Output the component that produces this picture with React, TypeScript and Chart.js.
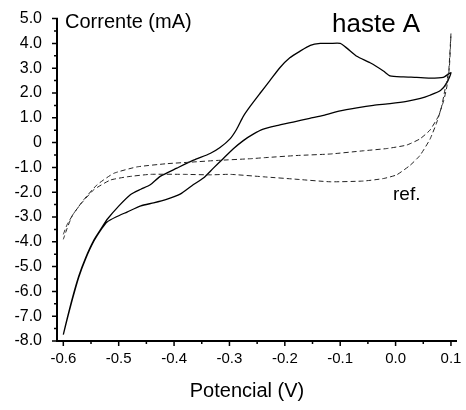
import React, { useEffect, useRef } from "react";
import { Chart, registerables } from "chart.js";

Chart.register(...registerables);

// haste A (solid loop): anodic sweep then cathodic sweep
const hasteAX = [
  -0.6, -0.593, -0.584, -0.572, -0.56, -0.545, -0.53, -0.521, -0.5, -0.479, -0.46, -0.443, -0.425, -0.395,
  -0.365, -0.335, -0.317, -0.299, -0.287, -0.275, -0.263, -0.245, -0.227, -0.209, -0.191, -0.173, -0.154,
  -0.136, -0.118, -0.1, -0.088, -0.07, -0.046, -0.022, -0.01, 0.014, 0.038, 0.062, 0.086, 0.1,
  0.093, 0.081, 0.062, 0.045, 0.02, -0.01, -0.04, -0.07, -0.1, -0.13, -0.155, -0.185, -0.215, -0.239,
  -0.257, -0.275, -0.293, -0.311, -0.329, -0.347, -0.365, -0.389, -0.415, -0.437, -0.46, -0.485, -0.505,
  -0.521, -0.53, -0.545, -0.56, -0.572, -0.584, -0.593, -0.6,
];
const hasteAY = [
  -7.74, -7.09, -6.3, -5.38, -4.66, -3.94, -3.41, -3.1, -2.56, -2.1, -1.88, -1.7, -1.36, -1.03,
  -0.71, -0.44, -0.2, 0.15, 0.54, 1.06, 1.45, 1.98, 2.5, 3.02, 3.42, 3.68, 3.92,
  4.0, 4.0, 4.0, 3.81, 3.48, 3.22, 2.89, 2.69, 2.65, 2.63, 2.6, 2.63, 2.82,
  2.43, 2.1, 1.91, 1.78, 1.66, 1.57, 1.5, 1.4, 1.28, 1.1, 0.98, 0.83, 0.68, 0.54,
  0.34, 0.08, -0.25, -0.64, -1.03, -1.43, -1.69, -2.08, -2.3, -2.43, -2.55, -2.8, -3.0,
  -3.2, -3.45, -3.98, -4.7, -5.42, -6.35, -7.12, -7.74,
];

// ref. (dashed loop)
const refX = [
  -0.6, -0.593, -0.581, -0.563, -0.539, -0.509, -0.467, -0.413, -0.371, -0.323, -0.262, -0.238, -0.178,
  -0.118, -0.058, -0.016, 0.02, 0.044, 0.062, 0.077, 0.087, 0.093, 0.097, 0.099, 0.1,
  0.096, 0.09, 0.083, 0.074, 0.062, 0.044, 0.026, 0.002, -0.022, -0.058, -0.118, -0.178, -0.238, -0.299,
  -0.335, -0.383, -0.443, -0.485, -0.515, -0.545, -0.569, -0.584, -0.593, -0.6,
];
const refY = [
  -3.7, -3.3, -2.85, -2.3, -1.7, -1.24, -0.98, -0.85, -0.79, -0.72, -0.65, -0.61, -0.52,
  -0.46, -0.33, -0.24, -0.1, 0.15, 0.5, 1.05, 1.7, 2.3, 3.0, 3.8, 4.4,
  2.9, 2.23, 1.44, 0.79, 0.13, -0.52, -0.92, -1.3, -1.45, -1.55, -1.58, -1.48, -1.38, -1.28,
  -1.3, -1.28, -1.28, -1.38, -1.51, -1.9, -2.49, -2.95, -3.45, -3.9,
];

const xMajor = [-0.6, -0.5, -0.4, -0.3, -0.2, -0.1, 0.0, 0.1];
const xLabels = ["-0.6", "-0.5", "-0.4", "-0.3", "-0.2", "-0.1", "0.0", "0.1"];
const yMajor = [5, 4, 3, 2, 1, 0, -1, -2, -3, -4, -5, -6, -7, -8];
const yLabels = ["5.0", "4.0", "3.0", "2.0", "1.0", "0", "-1.0", "-2.0", "-3.0", "-4.0", "-5.0", "-6.0", "-7.0", "-8.0"];

const FONT = '"Liberation Sans", Arial, Helvetica, sans-serif';

function labelFor(values: number[], labels: string[], v: number): string {
  const i = values.findIndex((m) => Math.abs(m - v) < 1e-9);
  return i >= 0 ? labels[i] : "";
}

const decorPlugin = {
  id: "decor",
  afterDraw(chart: any) {
    const { ctx, chartArea, scales } = chart;
    const xs = scales.x;
    const ys = scales.y;
    ctx.save();
    ctx.strokeStyle = "#000";
    ctx.lineWidth = 1.5;
    ctx.beginPath();
    const bottom = chartArea.bottom;
    xMajor.forEach((v, i) => {
      const p = xs.getPixelForValue(v);
      ctx.moveTo(p, bottom - 1);
      ctx.lineTo(p, bottom + 5);
      if (i < xMajor.length - 1) {
        const q = xs.getPixelForValue((v + xMajor[i + 1]) / 2);
        ctx.moveTo(q, bottom - 1);
        ctx.lineTo(q, bottom + 3);
      }
    });
    const left = chartArea.left;
    yMajor.forEach((v, i) => {
      const p = ys.getPixelForValue(v);
      ctx.moveTo(left + 1, p);
      ctx.lineTo(left - 5, p);
      if (i < yMajor.length - 1) {
        const q = ys.getPixelForValue((v + yMajor[i + 1]) / 2);
        ctx.moveTo(left + 1, q);
        ctx.lineTo(left - 3, q);
      }
    });
    ctx.stroke();

    ctx.fillStyle = "#000";
    ctx.textBaseline = "alphabetic";
    ctx.textAlign = "left";
    ctx.font = `20px ${FONT}`;
    ctx.fillText("Corrente (mA)", 65, 28);
    ctx.font = `26px ${FONT}`;
    ctx.fillText("haste A", 332, 32);
    ctx.font = `19px ${FONT}`;
    ctx.fillText("ref.", 393, 200);
    ctx.font = `20px ${FONT}`;
    ctx.textAlign = "center";
    ctx.fillText("Potencial (V)", 247, 397);
    ctx.restore();
  },
};

export default function App() {
  const canvasRef = useRef<HTMLCanvasElement | null>(null);

  useEffect(() => {
    if (!canvasRef.current) return;
    const hasteData = hasteAX.map((x, i) => ({ x, y: hasteAY[i] }));
    const refData = refX.map((x, i) => ({ x, y: refY[i] }));
    const chart = new Chart(canvasRef.current, {
      type: "scatter",
      data: {
        datasets: [
          {
            label: "ref.",
            data: refData,
            showLine: true,
            borderColor: "#222",
            borderWidth: 1,
            borderDash: [5, 3],
            pointRadius: 0,
            tension: 0.15,
            fill: false,
          },
          {
            label: "haste A",
            data: hasteData,
            showLine: true,
            borderColor: "#000",
            borderWidth: 1.3,
            pointRadius: 0,
            tension: 0.2,
            fill: false,
          },
        ],
      },
      options: {
        animation: false,
        responsive: true,
        maintainAspectRatio: false,
        layout: { padding: { top: 10, right: 10, left: 0, bottom: 0 } },
        plugins: {
          legend: { display: false },
          tooltip: { enabled: false },
        },
        scales: {
          x: {
            type: "linear",
            min: -0.6114,
            max: 0.1091,
            afterBuildTicks: (s: any) => {
              s.ticks = xMajor.map((v) => ({ value: v }));
            },
            afterFit: (s: any) => {
              s.height = 69;
            },
            ticks: {
              autoSkip: false,
              maxRotation: 0,
              padding: 4,
              color: "#000",
              font: { family: FONT, size: 15 },
              callback: (v: any) => labelFor(xMajor, xLabels, Number(v)),
            },
            grid: { drawOnChartArea: false, tickLength: 5, tickColor: "rgba(0,0,0,0)" },
            border: { color: "#000", width: 2 },
          },
          y: {
            type: "linear",
            min: -8,
            max: 5,
            afterBuildTicks: (s: any) => {
              s.ticks = yMajor.slice().reverse().map((v) => ({ value: v }));
            },
            afterFit: (s: any) => {
              s.width = 57;
            },
            ticks: {
              autoSkip: false,
              padding: 9,
              color: "#000",
              font: { family: FONT, size: 16 },
              callback: (v: any) => labelFor(yMajor, yLabels, Number(v)),
            },
            grid: { drawOnChartArea: false, tickLength: 6, tickColor: "rgba(0,0,0,0)" },
            border: { color: "#000", width: 2 },
          },
        },
      },
      plugins: [decorPlugin],
    });
    return () => chart.destroy();
  }, []);

  return (
    <div style={{ position: "absolute", left: 0, top: 0, width: 466, height: 410, background: "#fff" }}>
      <canvas ref={canvasRef} />
    </div>
  );
}
